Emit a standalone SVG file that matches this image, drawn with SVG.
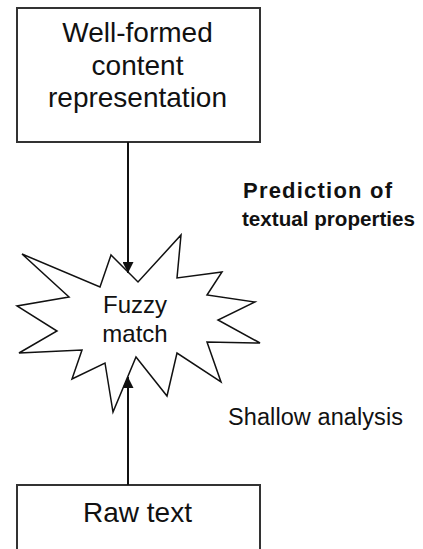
<svg xmlns="http://www.w3.org/2000/svg" width="423" height="549" viewBox="0 0 423 549">
<defs>
<style>
.box{fill:#fff;stroke:#333;stroke-width:2}
.t{font-family:"Liberation Sans",Arial,sans-serif;fill:#111}
.conn{stroke:#111;stroke-width:2;fill:none}
.star{fill:#fff;stroke:#111;stroke-width:1.5;stroke-linejoin:miter}
</style>
<marker id="ah" viewBox="0 0 10 10" refX="10" refY="5" markerWidth="5.5" markerHeight="5.5" orient="auto" markerUnits="strokeWidth">
<path d="M0,0 L10,5 L0,10 Z" fill="#111"/>
</marker>
</defs>
<rect width="423" height="549" fill="#fff"/>
<g id="top-box">
<rect class="box" x="17" y="8" width="243" height="134"/>
<text class="t" x="137.5" y="42" font-size="28" text-anchor="middle">Well-formed</text>
<text class="t" x="137.5" y="75" font-size="28" text-anchor="middle">content</text>
<text class="t" x="137.5" y="107" font-size="28" text-anchor="middle">representation</text>
</g>
<g id="fuzzy-match">
<polygon class="star" points="22,254 100,287 111,255 138,282 181,235 177,278 222,272 207,295 255,302 218,320 260,343 207,342 221,382 177,353 167,396 136,357 113,412 105,363 72,379 82,350 19,353 57,331 17,306 69,297"/>
<text class="t" x="135" y="313" font-size="24" text-anchor="middle">Fuzzy</text>
<text class="t" x="135" y="342" font-size="24" text-anchor="middle">match</text>
</g>
<g id="bottom-box">
<rect class="box" x="17" y="485" width="243" height="80"/>
<text class="t" x="137.5" y="522" font-size="28" text-anchor="middle">Raw text</text>
</g>
<g id="connectors">
<line class="conn" x1="128" y1="142" x2="128" y2="273" marker-end="url(#ah)"/>
<line class="conn" x1="128" y1="485" x2="128" y2="377" marker-end="url(#ah)"/>
</g>
<g id="labels">
<text class="t" x="243" y="198" font-size="22" font-weight="bold" textLength="149" lengthAdjust="spacing">Prediction of</text>
<text class="t" x="242" y="226" font-size="21" font-weight="bold" textLength="173" lengthAdjust="spacingAndGlyphs">textual properties</text>
<text class="t" x="228" y="425" font-size="23.5" textLength="175" lengthAdjust="spacing">Shallow analysis</text>
</g>
</svg>
